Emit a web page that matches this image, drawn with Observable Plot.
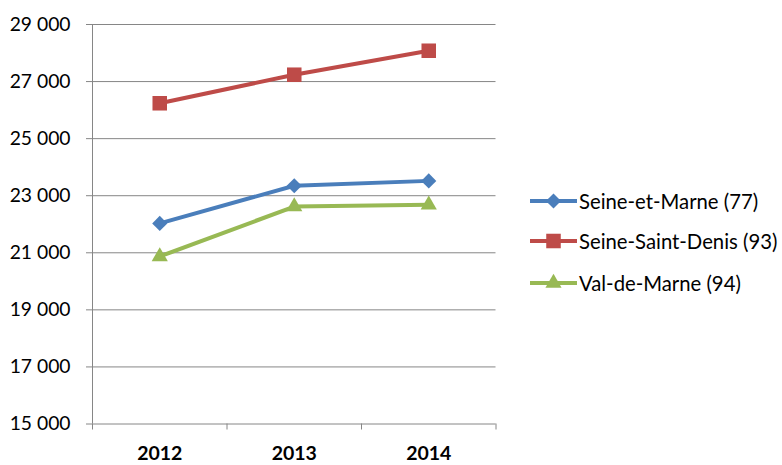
<!DOCTYPE html>
<html><head><meta charset="utf-8">
<script src="https://cdn.jsdelivr.net/npm/d3@7"></script>
<script src="https://cdn.jsdelivr.net/npm/@observablehq/plot@0.6"></script>
<style>
body{margin:0;background:#fff;font-family:Lato,sans-serif}
#wrap{position:relative;width:782px;height:465px}
.lg{position:absolute;left:530px;height:24px;display:flex;align-items:center;font-size:20.3px;color:#000;white-space:nowrap}
.lg svg{display:block;margin-right:1px}
</style></head><body><div id="wrap"></div>
<script>
const years = [2012, 2013, 2014];
const seriesNames = ["Seine-et-Marne (77)", "Seine-Saint-Denis (93)", "Val-de-Marne (94)"];
const seineEtMarne = [22030, 23350, 23520];
const seineSaintDenis = [26240, 27240, 28080];
const valDeMarne = [20870, 22620, 22680];
const yTicks = [15000, 17000, 19000, 21000, 23000, 25000, 27000, 29000];
const colors = ["#4a7ebb", "#be4b48", "#98b954"];
const symbols = ["diamond2", "square", "triangle"];
const radii = [6.8, 8.2, 6.0];

const seriesValues = [seineEtMarne, seineSaintDenis, valDeMarne];
const data = [];
seriesNames.forEach((s, i) => years.forEach((y, j) => data.push({series: s, year: y, value: seriesValues[i][j]})));
const boundaries = years.map(y => y - 0.5).concat([years[years.length - 1] + 0.5]);

const fmt = d3.formatLocale({thousands: " ", grouping: [3], decimal: ",", currency: ["", ""]}).format(",d");
const gray = "#868686";

const marks = [
  Plot.ruleY(yTicks, {y: d => d, stroke: gray, strokeWidth: 1}),
  Plot.ruleX([boundaries[0]], {stroke: gray, strokeWidth: 1}),
  Plot.axisY({ticks: yTicks, tickFormat: fmt, tickSize: 6, tickPadding: 16, stroke: gray, strokeOpacity: 1, label: null, fontSize: 19.3}),
  Plot.axisX({ticks: boundaries, tickSize: 6, tickFormat: () => "", stroke: gray, strokeOpacity: 1, label: null}),
  Plot.axisX({ticks: years, tickSize: 0, tickPadding: 22, tickFormat: d => String(d), fontWeight: "bold", fontSize: 19.5, label: null}),
  Plot.line(data, {x: "year", y: "value", z: "series", stroke: "series", strokeWidth: 4, strokeLinejoin: "round"})
];
seriesNames.forEach((s, i) => {
  marks.push(Plot.dot(data.filter(d => d.series === s), {x: "year", y: "value", symbol: () => symbols[i], fill: colors[i], r: radii[i]}));
});

const chart = Plot.plot({
  width: 782, height: 465,
  marginLeft: 92, marginRight: 286.5, marginTop: 24, marginBottom: 41.5,
  style: {fontFamily: "Lato, sans-serif", fontSize: "19px", color: "#000", background: "#fff", overflow: "visible"},
  x: {type: "linear", domain: [boundaries[0], boundaries[boundaries.length - 1]]},
  y: {domain: [yTicks[0], yTicks[yTicks.length - 1]]},
  color: {domain: seriesNames, range: colors},
  symbol: {type: "identity"},
  marks
});
const wrap = document.getElementById("wrap");
wrap.appendChild(chart);

const legendTops = [201, 241, 283];
seriesNames.forEach((s, i) => {
  const row = document.createElement("div");
  row.className = "lg";
  row.style.top = (legendTops[i] - 12) + "px";
  const svg = d3.create("svg").attr("width", 48).attr("height", 24);
  svg.append("line").attr("x1", 0).attr("x2", 47).attr("y1", 12).attr("y2", 12).attr("stroke", colors[i]).attr("stroke-width", 4);
  const sym = {diamond2: d3.symbolDiamond2, square: d3.symbolSquare, triangle: d3.symbolTriangle}[symbols[i]];
  svg.append("path").attr("transform", "translate(23.5,12)").attr("fill", colors[i]).attr("d", d3.symbol(sym, Math.PI * radii[i] * radii[i])());
  row.appendChild(svg.node());
  const t = document.createElement("span");
  t.textContent = s;
  row.appendChild(t);
  wrap.appendChild(row);
});
</script>
</body></html>
